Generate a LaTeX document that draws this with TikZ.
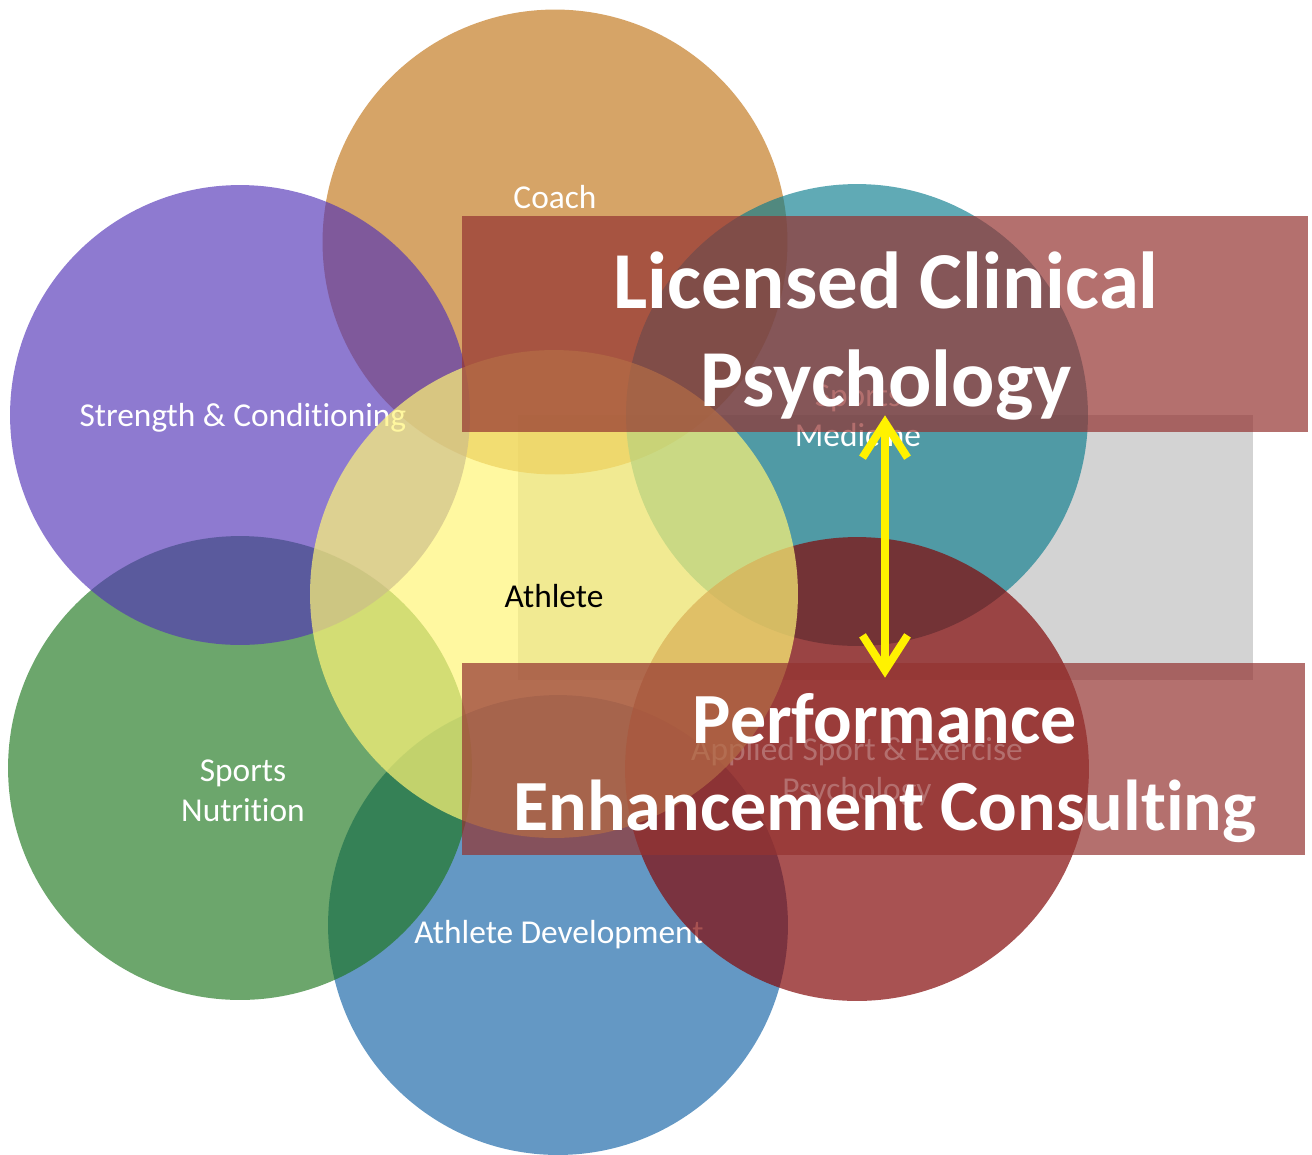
\documentclass[tikz,border=0pt]{standalone}
\usepackage{fontspec}
\setmainfont{Carlito}[Ligatures=NoCommon]
\usetikzlibrary{arrows.meta}

\definecolor{coachc}{RGB}{192,115,21}
\definecolor{strengthc}{RGB}{81,50,183}
\definecolor{medicc}{RGB}{10,124,141}
\definecolor{nutric}{RGB}{29,118,29}
\definecolor{develc}{RGB}{17,97,164}
\definecolor{psychc}{RGB}{131,8,8}
\definecolor{athletec}{RGB}{255,245,119}
\definecolor{bannerc}{RGB}{148,51,49}
\definecolor{shadec}{RGB}{211,211,211}

\begin{document}
\begin{tikzpicture}[x=0.02cm, y=-0.02cm,
                    disc/.style={circle, draw=none, inner sep=0pt, minimum size=9.28cm, fill opacity=0.65}]
    \tikzstyle{lbl}=[white, align=center, inner sep=0pt, font=\fontsize{19}{23}\selectfont]
    \tikzstyle{banner}=[rectangle, fill=bannerc, fill opacity=0.7, inner sep=0pt, minimum width=16.92cm]
    \tikzstyle{bigtxt}=[white, align=center, inner sep=0pt, font=\bfseries\fontsize{46}{55.5}\selectfont]
    \tikzstyle{connect}=[{Straight Barb[length=0.7cm, width=0.9cm]}-{Straight Barb[length=0.7cm, width=0.9cm]}, line width=4.5pt, yellow]

      \useasboundingbox (0,0) rectangle (1312,1154);
      \fill[shadec] (518,415) rectangle (1253,680);

      % the ring of support roles, athlete last so it sits on top
      \node[disc, fill=develc, minimum size=9.2cm] (devel) at (558,925) {};
      \node[lbl] (develtxt) at (559,935) {Athlete Development};
      \node[disc, fill=coachc, minimum size=9.3cm] (coach) at (555,242) {};
      \node[lbl] (coachtxt) at (555,197) {Coach};
      \node[disc, fill=medicc, minimum size=9.24cm] (medic) at (857,415) {};
      \node[lbl] (medictxt) at (858,416) {Sports\\Medicine};
      \node[disc, fill=nutric] (nutri) at (240,768) {};
      \node[lbl] (nutritxt) at (243,791) {Sports\\Nutrition};
      \node[disc, fill=strengthc, minimum size=9.2cm] (strength) at (240,415) {};
      \node[lbl] (strengthtxt) at (243,418) {Strength \& Conditioning};
      \node[disc, fill=psychc, fill opacity=0.7] (psych) at (857,769) {};
      \node[lbl] (psychtxt) at (857,772) {Applied Sport \& Exercise\\Psychology};
      \node[disc, fill=athletec, fill opacity=0.7, minimum size=9.76cm] (athlete) at (554,594) {};
      \node[lbl, black] (athletetxt) at (554,596) {Athlete};

      % the two practice banners
      \node[banner, minimum height=4.32cm] (clinical) at (885,324) {};
      \node[bigtxt] (clinicaltxt) at (886,336) {Licensed Clinical\\Psychology};
      \node[banner, minimum width=16.86cm, minimum height=3.84cm] (consult) at (883.5,759) {};
      \node[bigtxt, font=\bfseries\fontsize{41}{50}\selectfont] (consulttxt) at (885,768) {Performance\\Enhancement Consulting};

      \path
        (clinical.south) edge [connect, shorten <=-0.34cm, shorten >=-0.3cm] (clinical.south |- consult.north);
    \end{tikzpicture}
\end{document}
